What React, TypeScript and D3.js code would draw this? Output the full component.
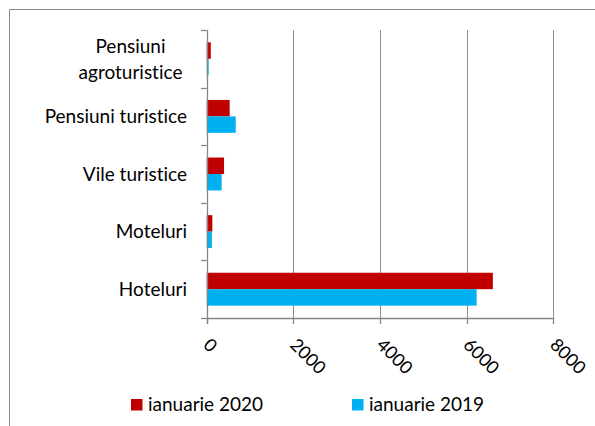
import React from "react";
import * as d3 from "d3";

const categories = ["Pensiuni agroturistice", "Pensiuni turistice", "Vile turistice", "Moteluri", "Hoteluri"];
const categoryLines = [["Pensiuni", "agroturistice"], ["Pensiuni turistice"], ["Vile turistice"], ["Moteluri"], ["Hoteluri"]];
const seriesNames = ["ianuarie 2020", "ianuarie 2019"];
const values2020 = [95, 530, 400, 130, 6605];
const values2019 = [45, 670, 345, 120, 6230];
const xTicks = [0, 2000, 4000, 6000, 8000];

const colors = ["#C00000", "#00B0F0"];
const FONT = "Lato, 'Open Sans', sans-serif";

export default function App() {
  const W = 595, H = 426;
  const x = d3.scaleLinear().domain([0, 8000]).range([206.7, 553.3]);
  const y = d3.scaleBand<string>().domain(categories).range([30, 318]).paddingInner(0).paddingOuter(0);
  const sub = d3.scaleBand<string>().domain(seriesNames).range([0, y.bandwidth()]).paddingInner(0).paddingOuter(0.75);
  const series = [values2020, values2019];
  const axisColor = "#868686";
  const gridColor = "#8f8f8f";
  const px = (v: number) => Math.round(v) + 0.5;
  const boundaries = categories.map((c) => y(c)!).concat([318]);

  return (
    <svg
      width={W}
      height={H}
      style={{ position: "absolute", left: 0, top: 0, background: "#fff", fontVariantLigatures: "none" }}
      fontFamily={FONT}
    >
      <rect x={0} y={0} width={W} height={H} fill="#fff" />
      <path d={`M9.5,${H} V9.5 H${W}`} fill="none" stroke="#8a8a8a" strokeWidth={1} />
      {/* gridlines */}
      {xTicks.slice(1).map((t) => (
        <line key={"g" + t} x1={px(x(t))} x2={px(x(t))} y1={30} y2={318} stroke={gridColor} strokeWidth={1} />
      ))}
      {/* bars */}
      {series.map((vals, si) =>
        categories.map((c, ci) => (
          <rect
            key={si + "-" + ci}
            x={x(0)}
            y={y(c)! + sub(seriesNames[si])!}
            width={x(vals[ci]) - x(0)}
            height={sub.bandwidth()}
            fill={colors[si]}
          />
        ))
      )}
      {/* x axis */}
      <line x1={x(0)} x2={x(8000)} y1={px(318)} y2={px(318)} stroke={axisColor} strokeWidth={1.3} />
      {xTicks.map((t) => (
        <line key={"xt" + t} x1={px(x(t))} x2={px(x(t))} y1={318} y2={324} stroke={axisColor} strokeWidth={1.3} />
      ))}
      {xTicks.map((t) => (
        <text
          key={"xl" + t}
          transform={`translate(${x(t) + 5},${336.5}) rotate(45)`}
          dy="0.74em"
          fontSize={18}
          fill="#000"
          textAnchor="start"
        >
          {t}
        </text>
      ))}
      {/* y axis */}
      <line x1={px(x(0))} x2={px(x(0))} y1={30} y2={324} stroke={axisColor} strokeWidth={1.3} />
      {boundaries.map((b, i) => (
        <line key={"yt" + i} x1={201} x2={x(0)} y1={px(b)} y2={px(b)} stroke={axisColor} strokeWidth={1.3} />
      ))}
      {categories.map((c, ci) => {
        const lines = categoryLines[ci];
        const cy = y(c)! + y.bandwidth() / 2;
        if (lines.length === 1) {
          return (
            <text key={"cl" + ci} x={187} y={cy} dy="0.36em" fontSize={19} textAnchor="end" fill="#000">
              {lines[0]}
            </text>
          );
        }
        return (
          <text key={"cl" + ci} x={130.5} y={cy} fontSize={19} textAnchor="middle" fill="#000">
            {lines.map((l, li) => (
              <tspan key={li} x={130.5} y={cy - 13 + li * 26} dy="0.36em">
                {l}
              </tspan>
            ))}
          </text>
        );
      })}
      {/* legend */}
      {seriesNames.map((s, si) => {
        const lx = si === 0 ? 131 : 352;
        return (
          <g key={"lg" + si}>
            <rect x={lx} y={399} width={11.5} height={11.5} fill={colors[si]} />
            <text x={lx + 17} y={410.5} fontSize={19} fill="#000">
              {s}
            </text>
          </g>
        );
      })}
    </svg>
  );
}
